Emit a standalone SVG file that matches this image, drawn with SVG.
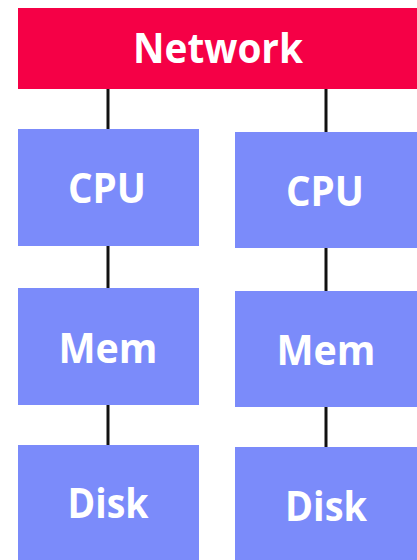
<svg xmlns="http://www.w3.org/2000/svg" width="417" height="560" viewBox="0 0 417 560">
<style>
.net{fill:#F50046}
.box{fill:#7B8BFA}
.lbl{font-family:"Open Sans","Liberation Sans",sans-serif;font-weight:700;font-size:41px;fill:#FFFFFF;text-anchor:middle}
.conn line{stroke:#111111;stroke-width:3}
</style>
<rect width="417" height="560" fill="#FFFFFF"/>
<g id="connectors" class="conn">
<line x1="108" y1="88" x2="108" y2="130"/>
<line x1="108" y1="245" x2="108" y2="289"/>
<line x1="108" y1="404" x2="108" y2="446"/>
<line x1="326" y1="87" x2="326" y2="133"/>
<line x1="326" y1="247" x2="326" y2="292"/>
<line x1="326" y1="406" x2="326" y2="448"/>
</g>
<g id="network"><rect class="net" x="18" y="8" width="399" height="81"/><text class="lbl" x="218" y="63" textLength="170" lengthAdjust="spacingAndGlyphs">Network</text></g>
<g id="cpu1"><rect class="box" x="18" y="129" width="181" height="117"/><text class="lbl" x="107" y="203" textLength="78" lengthAdjust="spacingAndGlyphs">CPU</text></g>
<g id="mem1"><rect class="box" x="18" y="288" width="181" height="117"/><text class="lbl" x="108" y="363" textLength="99" lengthAdjust="spacingAndGlyphs">Mem</text></g>
<g id="disk1"><rect class="box" x="18" y="445" width="181" height="115"/><text class="lbl" x="108" y="518" textLength="81" lengthAdjust="spacingAndGlyphs">Disk</text></g>
<g id="cpu2"><rect class="box" x="235" y="132" width="182" height="116"/><text class="lbl" x="325" y="206" textLength="78" lengthAdjust="spacingAndGlyphs">CPU</text></g>
<g id="mem2"><rect class="box" x="235" y="291" width="182" height="116"/><text class="lbl" x="326" y="365" textLength="99" lengthAdjust="spacingAndGlyphs">Mem</text></g>
<g id="disk2"><rect class="box" x="235" y="447" width="182" height="113"/><text class="lbl" x="326" y="521" textLength="82" lengthAdjust="spacingAndGlyphs">Disk</text></g>
</svg>
